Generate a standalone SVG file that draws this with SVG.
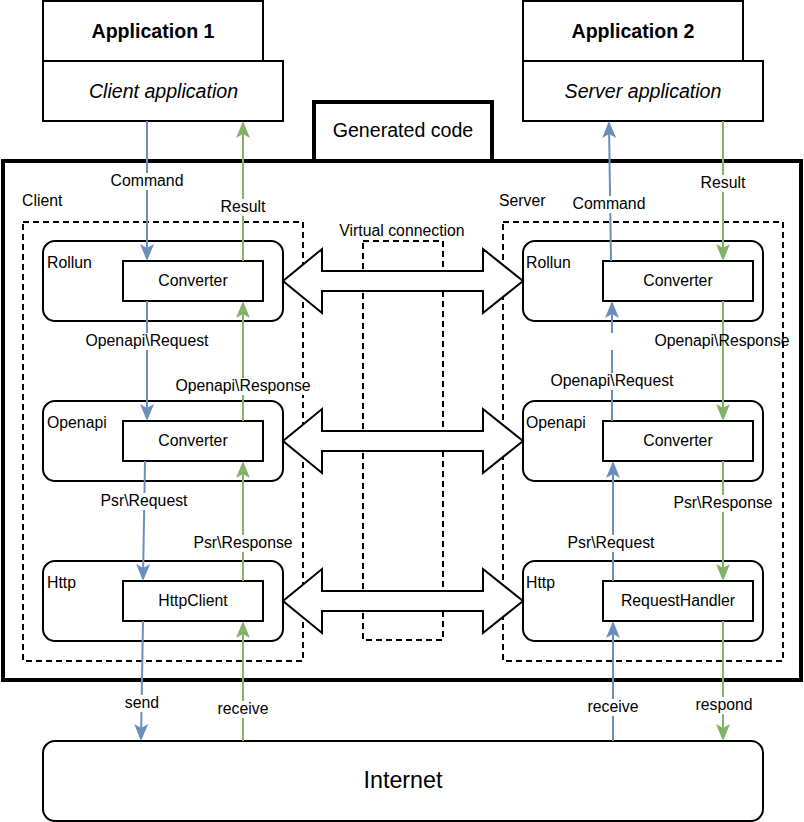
<svg xmlns="http://www.w3.org/2000/svg" width="804" height="822" viewBox="0 0 804 822">
<defs>
<style>
text{font-family:"Liberation Sans",Arial,Helvetica,sans-serif;fill:#000}
.box{fill:#fff;stroke:#000;stroke-width:2}
.thick{fill:#fff;stroke:#000;stroke-width:4}
.frame{fill:none;stroke:#000;stroke-width:4}
.dash{fill:none;stroke:#000;stroke-width:2;stroke-dasharray:6 4}
.t{font-size:15.8px}
.mid{text-anchor:middle}
.big{font-size:19.6px}
.bold{font-weight:bold}
.it{font-style:italic}
.b{stroke:#6c8ebf;stroke-width:2;fill:none;marker-end:url(#ab)}
.g{stroke:#82b366;stroke-width:2;fill:none;marker-end:url(#ag)}
.lb{fill:#fff}
.dbl{fill:#fff;stroke:#000;stroke-width:2;stroke-linejoin:miter}
</style>
<marker id="ab" markerUnits="userSpaceOnUse" orient="auto" markerWidth="20" markerHeight="20" refX="0" refY="0" style="overflow:visible"><path d="M3,0 L-14,-7 L-10,0 L-14,7 Z" fill="#6c8ebf"/></marker>
<marker id="ag" markerUnits="userSpaceOnUse" orient="auto" markerWidth="20" markerHeight="20" refX="0" refY="0" style="overflow:visible"><path d="M3,0 L-14,-7 L-10,0 L-14,7 Z" fill="#82b366"/></marker>
</defs>
<rect x="0" y="0" width="804" height="822" fill="#fff"/>

<g id="app1">
<rect class="box" x="43" y="1" width="220" height="60"/>
<text class="big bold mid" x="153" y="38">Application 1</text>
</g>
<g id="client-app">
<rect class="box" x="43" y="61" width="240" height="60"/>
<text class="big it mid" x="163.5" y="98">Client application</text>
</g>
<g id="app2">
<rect class="box" x="523" y="1" width="220" height="60"/>
<text class="big bold mid" x="633" y="38">Application 2</text>
</g>
<g id="server-app">
<rect class="box" x="523" y="61" width="240" height="60"/>
<text class="big it mid" x="643" y="98">Server application</text>
</g>

<g id="generated-code">
<rect class="thick" x="314" y="102" width="178" height="59"/>
<text class="big mid" x="403" y="137">Generated code</text>
<rect class="frame" x="3" y="161" width="798" height="519"/>
</g>

<g id="client">
<rect class="dash" x="23" y="222" width="280" height="439"/>
<text class="t" x="22" y="206">Client</text>
</g>
<g id="server">
<rect class="dash" x="503" y="222" width="280" height="439"/>
<text class="t" x="499" y="206">Server</text>
</g>
<g id="virtual-connection">
<rect class="dash" x="363" y="241" width="80" height="399"/>
<text class="t mid" x="402" y="236">Virtual connection</text>
</g>

<g id="client-rollun">
<rect class="box" x="43" y="241" width="240" height="80" rx="12"/>
<text class="t" x="47" y="268">Rollun</text>
</g>
<g id="client-rollun-converter">
<rect class="box" x="123" y="261" width="140" height="40"/>
<text class="t mid" x="193" y="286">Converter</text>
</g>
<g id="client-openapi">
<rect class="box" x="43" y="401" width="240" height="80" rx="12"/>
<text class="t" x="47" y="428">Openapi</text>
</g>
<g id="client-openapi-converter">
<rect class="box" x="123" y="421" width="140" height="40"/>
<text class="t mid" x="193" y="446">Converter</text>
</g>
<g id="client-http">
<rect class="box" x="43" y="561" width="240" height="80" rx="12"/>
<text class="t" x="47" y="588">Http</text>
</g>
<g id="client-httpclient">
<rect class="box" x="123" y="581" width="140" height="40"/>
<text class="t mid" x="193" y="606">HttpClient</text>
</g>

<g id="server-rollun">
<rect class="box" x="523" y="241" width="240" height="80" rx="12"/>
<text class="t" x="526" y="268">Rollun</text>
</g>
<g id="server-rollun-converter">
<rect class="box" x="603" y="261" width="150" height="40"/>
<text class="t mid" x="678" y="286">Converter</text>
</g>
<g id="server-openapi">
<rect class="box" x="523" y="401" width="240" height="80" rx="12"/>
<text class="t" x="526" y="428">Openapi</text>
</g>
<g id="server-openapi-converter">
<rect class="box" x="603" y="421" width="150" height="40"/>
<text class="t mid" x="678" y="446">Converter</text>
</g>
<g id="server-http">
<rect class="box" x="523" y="561" width="240" height="80" rx="12"/>
<text class="t" x="526" y="588">Http</text>
</g>
<g id="server-requesthandler">
<rect class="box" x="603" y="581" width="150" height="40"/>
<text class="t mid" x="678" y="606">RequestHandler</text>
</g>

<g id="internet">
<rect class="box" x="43" y="741" width="720" height="80" rx="12"/>
<text class="mid" x="403" y="788" font-size="23.3">Internet</text>
</g>

<g id="connectors">
<path class="b" d="M147,121 L147,258"/>
<path class="g" d="M243,261 L243,124"/>
<path class="b" d="M147,301 L147,418"/>
<path class="g" d="M243,421 L243,304"/>
<path class="b" d="M145,461 L143,578"/>
<path class="g" d="M243,581 L243,464"/>
<path class="b" d="M143,621 L141,738"/>
<path class="g" d="M243,741 L243,624"/>

<path class="b" d="M611,261 L609,124"/>
<path class="g" d="M723,121 L723,258"/>
<path class="b" d="M612,421 L612,304"/>
<path class="g" d="M723,301 L723,418"/>
<path class="b" d="M613,581 L613,464"/>
<path class="g" d="M723,461 L723,578"/>
<path class="b" d="M613,741 L613,624"/>
<path class="g" d="M723,621 L723,738"/>

<rect class="lb" x="110" y="173" width="74" height="17"/><text class="t mid" x="147" y="186">Command</text>
<rect class="lb" x="220" y="199" width="46" height="17"/><text class="t mid" x="243" y="212">Result</text>
<rect class="lb" x="85" y="333" width="124" height="17"/><text class="t mid" x="147" y="346">Openapi\Request</text>
<rect class="lb" x="174.5" y="378" width="137" height="17"/><text class="t mid" x="243" y="391">Openapi\Response</text>
<rect class="lb" x="100" y="493" width="88" height="17"/><text class="t mid" x="144" y="506">Psr\Request</text>
<rect class="lb" x="193" y="535" width="100" height="17"/><text class="t mid" x="243" y="548">Psr\Response</text>
<rect class="lb" x="124" y="695" width="36" height="17"/><text class="t mid" x="142" y="708">send</text>
<rect class="lb" x="217" y="701" width="52" height="17"/><text class="t mid" x="243" y="714">receive</text>

<rect class="lb" x="572" y="196" width="74" height="17"/><text class="t mid" x="609" y="209">Command</text>
<rect class="lb" x="700" y="175" width="46" height="17"/><text class="t mid" x="723" y="188">Result</text>
<rect class="lb" x="553.5" y="333" width="137" height="17"/><text class="t mid" x="722" y="346">Openapi\Response</text>
<rect class="lb" x="550" y="373" width="124" height="17"/><text class="t mid" x="612" y="386">Openapi\Request</text>
<rect class="lb" x="673" y="495" width="100" height="17"/><text class="t mid" x="723" y="508">Psr\Response</text>
<rect class="lb" x="567" y="535" width="88" height="17"/><text class="t mid" x="611" y="548">Psr\Request</text>
<rect class="lb" x="587" y="699" width="52" height="17"/><text class="t mid" x="613" y="712">receive</text>
<rect class="lb" x="695" y="697" width="58" height="17"/><text class="t mid" x="724" y="710">respond</text>

<polygon class="dbl" points="283,281 322,249 322,271 483,271 483,249 523,281 483,313 483,291 322,291 322,313"/>
<polygon class="dbl" points="283,441 322,409 322,431 483,431 483,409 523,441 483,473 483,451 322,451 322,473"/>
<polygon class="dbl" points="283,601 322,569 322,591 483,591 483,569 523,601 483,633 483,611 322,611 322,633"/>
</g>
</svg>
